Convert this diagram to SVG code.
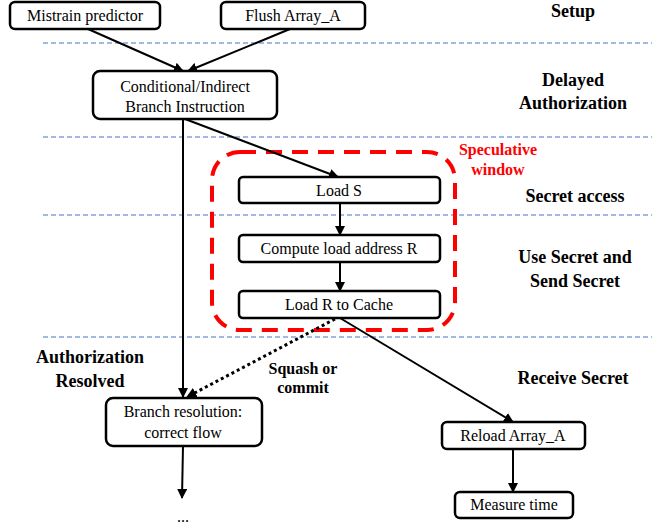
<svg xmlns="http://www.w3.org/2000/svg" width="663" height="527" viewBox="0 0 663 527" font-family="Liberation Serif, Times New Roman, DejaVu Serif, serif">
<style>
.n{fill:#fff;stroke:#000;stroke-width:2.5}
.t{font-size:16px;fill:#000;text-anchor:middle}
.l{font-size:18px;font-weight:bold;fill:#000;text-anchor:middle}
.s{font-size:16px;font-weight:bold;fill:#000;text-anchor:middle}
.r{fill:#ff0000}
.sep{stroke:#4472c4;stroke-width:1;stroke-dasharray:5 3;fill:none}
.c{stroke:#000;stroke-width:2;fill:none}
.d{stroke:#000;stroke-width:3;stroke-dasharray:3 3;fill:none}
</style>
<defs>
<marker id="a" viewBox="0 0 10 10" refX="9" refY="5" markerWidth="5" markerHeight="5" orient="auto" markerUnits="strokeWidth">
<path d="M0,0 L10,5 L0,10 z" fill="#000"/>
</marker>
<marker id="b" viewBox="0 0 10 10" refX="9" refY="5" markerWidth="3.5" markerHeight="3.5" orient="auto" markerUnits="strokeWidth">
<path d="M0,0 L10,5 L0,10 z" fill="#000"/>
</marker>
</defs>
<g id="separators">
<line class="sep" x1="43" y1="43" x2="652" y2="43"/>
<line class="sep" x1="43" y1="137" x2="652" y2="137"/>
<line class="sep" x1="43" y1="215" x2="652" y2="215"/>
<line class="sep" x1="43" y1="337" x2="652" y2="337"/>
</g>
<g id="phase-labels">
<text class="l" x="573" y="17">Setup</text>
<text class="l" x="573" y="86">Delayed</text>
<text class="l" x="573" y="109">Authorization</text>
<text class="l" x="575" y="202">Secret access</text>
<text class="l" x="575" y="263">Use Secret and</text>
<text class="l" x="575" y="287">Send Secret</text>
<text class="l" x="573" y="384">Receive Secret</text>
<text class="l" x="90" y="363">Authorization</text>
<text class="l" x="90" y="387">Resolved</text>
</g>
<g id="speculative-window">
<rect x="212" y="152" width="243" height="178" rx="28" fill="none" stroke="#ff0000" stroke-width="4" stroke-dasharray="16 10"/>
<text class="s r" x="498" y="155">Speculative</text>
<text class="s r" x="498" y="175">window</text>
</g>
<g id="connectors">
<line class="c" x1="88" y1="29" x2="183" y2="71" marker-end="url(#a)"/>
<line class="c" x1="290" y1="29" x2="188" y2="71" marker-end="url(#a)"/>
<line class="c" x1="185" y1="119" x2="338" y2="177" marker-end="url(#a)"/>
<line class="c" x1="183" y1="119" x2="183" y2="397" marker-end="url(#a)"/>
<line class="c" x1="340" y1="203" x2="340" y2="235" marker-end="url(#a)"/>
<line class="c" x1="340" y1="262" x2="340" y2="291" marker-end="url(#a)"/>
<line class="d" x1="335" y1="319" x2="187" y2="397" marker-end="url(#b)"/>
<line class="c" x1="340" y1="318" x2="513" y2="422" marker-end="url(#a)"/>
<line class="c" x1="513" y1="449" x2="513" y2="492" marker-end="url(#a)"/>
<line class="c" x1="183" y1="446" x2="182" y2="498" marker-end="url(#a)"/>
<text class="s" x="303" y="374">Squash or</text>
<text class="s" x="303" y="393">commit</text>
</g>
<g id="mistrain">
<rect class="n" x="10" y="2" width="150" height="27" rx="5"/>
<text class="t" x="85" y="21">Mistrain predictor</text>
</g>
<g id="flush">
<rect class="n" x="221" y="2" width="144" height="27" rx="5"/>
<text class="t" x="293" y="21">Flush Array_A</text>
</g>
<g id="branch">
<rect class="n" x="93" y="71" width="184" height="48" rx="7"/>
<text class="t" x="185" y="92">Conditional/Indirect</text>
<text class="t" x="185" y="112">Branch Instruction</text>
</g>
<g id="loadS">
<rect class="n" x="239" y="177" width="201" height="26" rx="4"/>
<text class="t" x="339" y="196">Load S</text>
</g>
<g id="compute">
<rect class="n" x="239" y="235" width="201" height="27" rx="4"/>
<text class="t" x="339" y="254">Compute load address R</text>
</g>
<g id="loadR">
<rect class="n" x="239" y="291" width="201" height="27" rx="4"/>
<text class="t" x="339" y="310">Load R to Cache</text>
</g>
<g id="resolution">
<rect class="n" x="106" y="398" width="156" height="48" rx="7"/>
<text class="t" x="183" y="417">Branch resolution:</text>
<text class="t" x="183" y="438">correct flow</text>
</g>
<g id="reload">
<rect class="n" x="442" y="422" width="143" height="27" rx="5"/>
<text class="t" x="513" y="441">Reload Array_A</text>
</g>
<g id="measure">
<rect class="n" x="455" y="492" width="118" height="26" rx="5"/>
<text class="t" x="514" y="510">Measure time</text>
</g>
<g id="ellipsis">
<text class="t" x="183" y="522">...</text>
</g>
</svg>
